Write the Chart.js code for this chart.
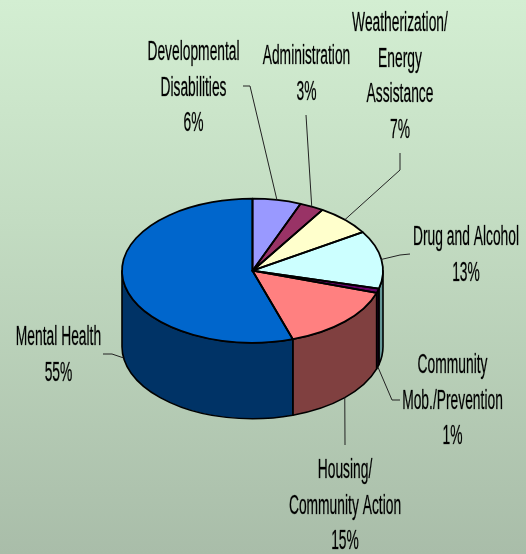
<!DOCTYPE html>
<html>
<head>
<meta charset="utf-8">
<style>
html,body{margin:0;padding:0;width:526px;height:554px;overflow:hidden;background:linear-gradient(180deg,#d3eed2 0%,#c3dcc2 40%,#a9bda9 100%);}
#wrap{position:absolute;left:0;top:0;width:526px;height:554px;}
</style>
<script src="https://cdn.jsdelivr.net/npm/chart.js@4/dist/chart.umd.min.js"></script>
</head>
<body>
<div id="wrap"><canvas id="c" width="526" height="554"></canvas></div>
<script>
const categories = ["Developmental Disabilities","Administration","Weatherization/ Energy Assistance","Drug and Alcohol","Community Mob./Prevention","Housing/ Community Action","Mental Health"];
const values = [6,3,7,13,1,15,55];
const topColors = ["#9999FF","#993366","#FFFFCC","#CCFFFF","#660066","#FF8080","#0066CC"];
const wallColors = ["#4d4d80","#4d1a33","#808066","#669999","#330033","#804040","#003366"];
const labelLines = [
  ["Developmental","Disabilities","6%"],
  ["Administration","3%"],
  ["Weatherization/","Energy","Assistance","7%"],
  ["Drug and Alcohol","13%"],
  ["Community","Mob./Prevention","1%"],
  ["Housing/","Community Action","15%"],
  ["Mental Health","55%"]
];
// layout of the callouts (label centre x, first baseline y, leader elbow points)
const labelCentre = [193.5,306.5,400,466,452.5,345,58.5];
const labelBaseline = [60,64,31,245,373,478,345];
const leaderOnWall = [false,false,false,false,true,true,true];
const leaderPaths = [
  [[250,86],[243,86]],
  [[306,115]],
  [[400,170],[400,153]],
  [[400,255],[410,254]],
  [[392,400],[400,400]],
  [[345,445]],
  [[112,354],[103,354]]
];
const CX=252.5, CY=270.7, RX=130.5, RY=72, DEPTH=76, LINE_H=35.6;
const FONT_PX=27, TEXT_SX=0.512;

const pie3d = {
  id:'pie3d',
  beforeDatasetsDraw(chart){
    const ctx=chart.ctx, arcs=chart.getDatasetMeta(0).data;
    ctx.save();
    // extruded wall of the front half
    arcs.forEach((a,i)=>{
      const p=a.getProps(['startAngle','endAngle'],true);
      const s=Math.max(p.startAngle,0), e=Math.min(p.endAngle,Math.PI);
      if(e<=s) return;
      ctx.beginPath();
      ctx.ellipse(CX,CY,RX,RY,0,s,e,false);
      ctx.ellipse(CX,CY+DEPTH,RX,RY,0,e,s,true);
      ctx.closePath();
      ctx.fillStyle=wallColors[i];
      ctx.fill();
      ctx.lineWidth=1.6; ctx.strokeStyle='#000'; ctx.lineJoin='round';
      ctx.stroke();
    });
    ctx.restore();
    // squash the library's circular pie into the tilted ellipse
    const a0=arcs[0];
    ctx.save();
    ctx.translate(CX,CY);
    ctx.scale(1,RY/RX);
    ctx.translate(-a0.x,-a0.y);
  },
  afterDatasetsDraw(chart){
    const ctx=chart.ctx, arcs=chart.getDatasetMeta(0).data;
    ctx.restore();
    ctx.save();
    ctx.lineWidth=1.8; ctx.strokeStyle='#000'; ctx.lineJoin='round';
    arcs.forEach(a=>{
      const p=a.getProps(['startAngle','endAngle'],true);
      ctx.beginPath();
      ctx.moveTo(CX,CY);
      ctx.ellipse(CX,CY,RX,RY,0,p.startAngle,p.endAngle,false);
      ctx.closePath();
      ctx.stroke();
    });
    // leaders
    ctx.lineWidth=1; ctx.strokeStyle='#222';
    arcs.forEach((a,i)=>{
      const p=a.getProps(['startAngle','endAngle'],true);
      const m=(p.startAngle+p.endAngle)/2;
      const x=CX+RX*Math.cos(m), y=CY+RY*Math.sin(m)+(leaderOnWall[i]?DEPTH:0);
      ctx.beginPath(); ctx.moveTo(x,y);
      leaderPaths[i].forEach(q=>ctx.lineTo(q[0],q[1]));
      ctx.stroke();
    });
    // labels
    ctx.fillStyle='#000';
    ctx.strokeStyle='rgba(0,0,0,0.55)';
    ctx.lineWidth=0.5;
    ctx.font=FONT_PX+'px "Liberation Sans", Arial, sans-serif';
    ctx.textAlign='center'; ctx.textBaseline='alphabetic';
    labelLines.forEach((lines,i)=>{
      lines.forEach((t,j)=>{
        ctx.save();
        ctx.translate(labelCentre[i],labelBaseline[i]+j*LINE_H);
        ctx.scale(TEXT_SX,1);
        ctx.fillText(t,0,0);
        ctx.strokeText(t,0,0);
        ctx.restore();
      });
    });
    ctx.restore();
  }
};

new Chart(document.getElementById('c'),{
  type:'pie',
  data:{labels:categories,datasets:[{data:values,backgroundColor:topColors,borderWidth:0,radius:RX}]},
  options:{
    responsive:false,animation:false,
    plugins:{legend:{display:false},tooltip:{enabled:false},title:{display:false}}
  },
  plugins:[pie3d]
});
</script>
</body>
</html>
